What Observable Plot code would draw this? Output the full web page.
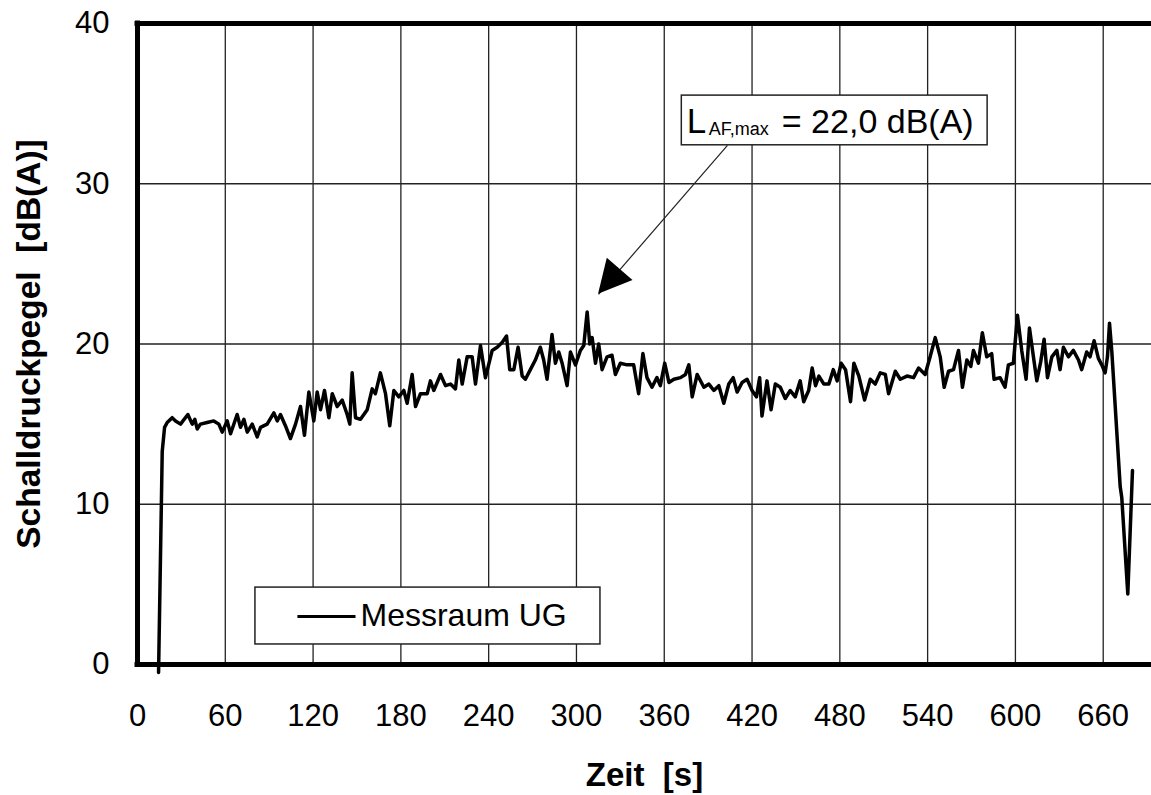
<!DOCTYPE html>
<html><head><meta charset="utf-8">
<script src="https://cdn.jsdelivr.net/npm/d3@7"></script>
<script src="https://cdn.jsdelivr.net/npm/@observablehq/plot@0.6"></script>
<style>
html,body{margin:0;padding:0;background:#fff;overflow:hidden}
</style></head><body><div id="chart"></div>
<script>
// Time [s]
const timeS = [14.4,16.9,18.5,20.3,23.7,26.0,29.4,34.4,37.4,39.2,40.8,43.0,47.6,52.1,55.6,57.9,61.3,63.6,68.1,70.4,72.7,75.0,78.4,81.8,84.1,88.6,93.2,95.5,97.7,101.1,104.5,108.0,111.4,114.1,117.1,120.5,122.8,125.1,127.8,130.8,133.1,136.5,139.9,143.3,145.1,146.7,149.0,152.4,157.0,160.4,162.6,166.0,169.5,172.4,175.2,178.6,182.0,184.3,187.7,190.0,193.4,198.0,200.2,202.5,207.1,210.5,213.9,217.3,219.6,221.9,225.3,228.7,231.0,234.4,237.8,242.4,245.8,249.2,252.2,254.4,257.2,260.1,262.9,265.1,268.5,271.9,275.3,277.6,279.9,283.3,285.6,287.9,290.2,293.6,295.9,299.3,302.7,305.0,307.3,309.1,310.7,313.0,315.2,317.5,320.9,324.3,326.6,330.0,334.6,339.1,342.5,345.4,348.2,351.6,355.0,357.3,360.3,363.2,366.6,371.1,374.5,376.8,379.1,382.5,387.1,390.5,393.9,397.3,400.7,404.1,407.1,409.8,413.2,416.6,420.0,423.0,425.2,426.8,430.2,433.0,435.9,439.3,442.7,446.1,449.5,452.9,455.3,458.7,461.1,463.4,465.7,469.1,472.5,475.5,478.2,480.9,483.9,487.3,489.6,493.0,496.9,500.8,504.2,507.6,511.1,513.3,517.9,521.3,525.9,530.4,533.8,538.3,541.7,545.2,548.6,551.3,554.3,557.7,561.1,563.8,566.8,569.5,571.3,574.7,577.4,580.4,583.8,585.4,589.5,592.9,595.2,598.6,601.4,604.3,607.3,609.6,612.3,614.6,617.3,619.6,621.9,624.9,628.3,630.5,632.8,636.2,639.6,643.1,645.3,648.7,651.0,653.8,656.7,659.0,661.3,662.9,664.3,665.9,671.6,672.7,676.8,680.0];
// Schalldruckpegel [dB(A)]
const levelDb = [-0.5,13.3,14.8,15.1,15.4,15.2,15.0,15.6,15.0,15.3,14.7,15.0,15.1,15.2,15.0,14.5,15.2,14.4,15.6,14.8,15.3,14.5,15.0,14.2,14.8,15.0,15.7,15.2,15.6,14.9,14.1,15.0,16.1,14.3,17.0,15.2,17.0,15.9,17.1,15.4,16.9,16.1,16.5,15.6,15.0,18.2,15.4,15.3,15.9,17.2,16.9,18.2,16.9,14.9,17.1,16.7,17.1,16.3,18.1,16.1,16.9,16.9,17.7,17.1,18.1,17.4,17.5,17.2,19.0,17.5,19.2,19.2,17.5,19.9,17.9,19.6,19.8,20.1,20.5,18.4,18.4,19.8,18.0,17.8,18.4,19.0,19.8,19.0,17.8,20.6,18.8,19.5,18.8,17.4,19.5,18.7,19.6,19.9,22.0,20.0,20.4,18.8,20.0,18.4,19.2,19.3,18.1,18.8,18.7,18.7,16.9,19.4,17.9,17.3,17.9,17.4,18.8,17.6,17.8,17.9,18.1,18.7,16.7,18.1,17.3,17.5,17.1,17.4,16.3,17.5,17.9,17.0,17.6,17.8,17.1,16.7,17.9,15.5,17.7,15.9,17.5,17.3,16.6,17.1,16.7,17.7,16.4,17.1,18.5,17.4,18.0,17.5,17.5,18.4,17.7,18.8,18.4,16.4,18.8,18.0,16.5,17.8,17.5,18.2,18.1,16.9,18.3,17.8,18.0,17.9,18.5,18.1,19.2,20.4,19.2,17.3,18.3,18.4,19.6,17.3,19.0,18.6,19.6,18.8,20.7,19.2,19.4,17.8,17.9,17.3,18.7,18.8,21.8,19.6,17.8,21.0,19.2,17.7,18.9,20.3,17.9,19.2,19.6,18.4,19.8,19.2,19.6,19.0,18.4,19.5,19.2,20.2,19.1,18.7,18.2,19.2,21.3,19.5,11.1,10.4,4.4,12.1];

const xTicks = [0,60,120,180,240,300,360,420,480,540,600,660];
const yTicks = [0,10,20,30,40];
const xGrid = [60,120,180,240,300,360,420,480,540,600,660];
const yGrid = [10,20,30];
const seriesName = "Messraum UG";
const xLabel = "Zeit\u00a0\u00a0[s]";
const yLabel = "Schalldruckpegel\u00a0\u00a0[dB(A)]";
const noteMain = "L";
const noteSub = "AF,max";
const noteRest = "= 22,0 dB(A)";

const data = timeS.map((t, i) => ({t, db: levelDb[i]}));

// annotation layout (data units)
const noteBox = {x1: 372, x2: 581, y1: 32.4, y2: 35.5};
const arrowFrom = {x: 403.2, y: 32.4};
const arrowTip = {x: 315.1, y: 23.1};
const legendBox = {x1: 80.6, x2: 316.4, y1: 1.25, y2: 4.8};
const legendSample = {x1: 109.3, x2: 149, y: 3.0};
const legendText = {x: 152.4, y: 2.43};

function arrowHead(from, to, len, wid) {
  return (index, scales) => {
    const x0 = scales.x(from.x), y0 = scales.y(from.y);
    const x1 = scales.x(to.x), y1 = scales.y(to.y);
    const dx = x1 - x0, dy = y1 - y0, L = Math.hypot(dx, dy);
    const ux = dx / L, uy = dy / L;
    const bx = x1 - ux * len, by = y1 - uy * len;
    const p = [[x1, y1], [bx - uy * wid / 2, by + ux * wid / 2], [bx + uy * wid / 2, by - ux * wid / 2]];
    return d3.create("svg:path")
      .attr("d", "M" + p.map(q => q.join(",")).join("L") + "Z")
      .attr("fill", "black").node();
  };
}

const font = "'Liberation Sans', Arial, Helvetica, sans-serif";

const chart = Plot.plot({
  width: 1151,
  height: 795,
  marginTop: 23,
  marginBottom: 131,
  marginLeft: 137,
  marginRight: 0,
  style: {fontFamily: font, color: "black", background: "white"},
  x: {domain: [0, 693]},
  y: {domain: [0, 40]},
  marks: [
    Plot.ruleX(xGrid, {stroke: "#222", strokeWidth: 1.3}),
    Plot.ruleY(yGrid, {stroke: "#222", strokeWidth: 1.3}),
    Plot.rect([legendBox], {x1: "x1", x2: "x2", y1: "y1", y2: "y2", fill: "white", stroke: "#222", strokeWidth: 1.5}),
    Plot.link([legendSample], {x1: "x1", x2: "x2", y1: "y", y2: "y", stroke: "black", strokeWidth: 3}),
    Plot.text([legendText], {x: "x", y: "y", text: () => seriesName, textAnchor: "start", lineAnchor: "bottom", fontSize: 32}),
    Plot.rect([noteBox], {x1: "x1", x2: "x2", y1: "y1", y2: "y2", fill: "white", stroke: "#222", strokeWidth: 1.5}),
    Plot.text([noteBox], {x: "x1", y: "y1", text: () => noteMain, textAnchor: "start", lineAnchor: "bottom", fontSize: 35, dx: 5, dy: -12.3}),
    Plot.text([noteBox], {x: "x1", y: "y1", text: () => noteSub, textAnchor: "start", lineAnchor: "bottom", fontSize: 18, dx: 27, dy: -10}),
    Plot.text([noteBox], {x: "x1", y: "y1", text: () => noteRest, textAnchor: "start", lineAnchor: "bottom", fontSize: 34, dx: 100, dy: -12.3}),
    Plot.link([{a: arrowFrom, b: arrowTip}], {x1: d => d.a.x, y1: d => d.a.y, x2: d => d.b.x, y2: d => d.b.y, stroke: "#222", strokeWidth: 1.2}),
    arrowHead(arrowFrom, arrowTip, 33, 34),
    Plot.line(data, {x: "t", y: "db", stroke: "black", strokeWidth: 3.5, strokeLinejoin: "round"}),
    Plot.ruleX([0], {stroke: "black", strokeWidth: 5, strokeLinecap: "square"}),
    Plot.ruleY([0, 40], {stroke: "black", strokeWidth: 5, strokeLinecap: "square"}),
    Plot.axisX({ticks: xTicks, tickSize: 0, tickPadding: 39, fontSize: 31, label: null, tickFormat: d => String(d)}),
    Plot.axisY({ticks: yTicks, tickSize: 0, tickPadding: 28, fontSize: 31, label: null, tickFormat: d => String(d)}),
    Plot.text([xLabel], {frameAnchor: "bottom", text: d => d, dy: 111, fontSize: 33, fontWeight: "bold", lineAnchor: "middle", textAnchor: "middle"}),
    Plot.text([yLabel], {frameAnchor: "left", text: d => d, dx: -108, rotate: -90, fontSize: 33.5, fontWeight: "bold", lineAnchor: "middle", textAnchor: "middle"})
  ]
});
document.getElementById("chart").appendChild(chart);
</script></body></html>
